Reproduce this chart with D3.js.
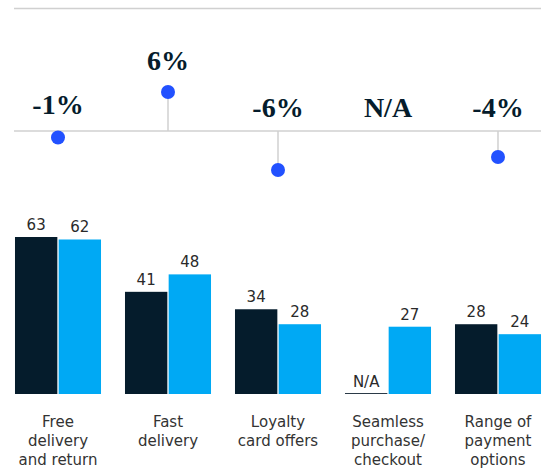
<!DOCTYPE html>
<html lang="en">
<head>
<meta charset="UTF-8">
<style>
  body { margin: 0; background: #fff; }
  svg { display: block; }
</style>
</head>
<body>
<svg width="554" height="473"></svg>
<script src="https://d3js.org/d3.v7.min.js"></script>
<script>
// data
var categories = ["Free delivery and return", "Fast delivery", "Loyalty card offers",
                  "Seamless purchase/ checkout", "Range of payment options"];
var labelLines = [["Free", "delivery", "and return"], ["Fast", "delivery"], ["Loyalty", "card offers"],
                  ["Seamless", "purchase/", "checkout"], ["Range of", "payment", "options"]];
var previous = [63, 41, 34, null, 28];
var current = [62, 48, 28, 27, 24];
var change = [-1, 6, -6, null, -4];

var dark = "#051c2c", light = "#00a9f4", dotBlue = "#2251ff", grey = "#d0d0d0";
var sans = "DejaVu Sans, Arial, sans-serif";

var svg = d3.select("svg");

// group positions
var x = d3.scaleBand()
    .domain(categories)
    .range([3, 553])
    .paddingInner(0.218)
    .paddingOuter(0.109);

var x1 = d3.scaleBand()
    .domain(["prev", "cur"])
    .range([0, x.bandwidth()])
    .paddingInner(0.03);

// bar values
var y = d3.scaleLinear().domain([0, 63]).range([394, 237]);

// change dots
var lineY = 131;
var yc = d3.scaleLinear().domain([-6, 6]).range([170, 92]);

// top rule and zero line for the change row
svg.append("line")
    .attr("x1", 14).attr("x2", 541).attr("y1", 8.5).attr("y2", 8.5)
    .attr("stroke", grey).attr("stroke-width", 1.5);

svg.append("line")
    .attr("x1", 14).attr("x2", 541).attr("y1", lineY).attr("y2", lineY)
    .attr("stroke", grey).attr("stroke-width", 1.5);

var groups = svg.selectAll(".grp")
    .data(categories)
    .enter().append("g")
    .attr("class", "grp")
    .attr("transform", function(d) { return "translate(" + x(d) + ",0)"; });

// stems + dots
groups.each(function(d, i) {
  var g = d3.select(this);
  var cx = x.bandwidth() / 2;
  var v = change[i];
  if (v === null) {
    g.append("text")
        .attr("x", cx).attr("y", 117)
        .attr("text-anchor", "middle")
        .attr("font-family", "Liberation Serif, serif")
        .attr("font-weight", "bold")
        .attr("font-size", 28)
        .attr("fill", dark)
        .text("N/A");
    return;
  }
  g.append("line")
      .attr("x1", cx).attr("x2", cx)
      .attr("y1", lineY).attr("y2", yc(v))
      .attr("stroke", grey).attr("stroke-width", 1.5);
  g.append("circle")
      .attr("cx", cx).attr("cy", yc(v)).attr("r", 7)
      .attr("fill", dotBlue);
  var ty = v > 0 ? yc(v) - 22 : (v > -2 ? 114 : 117);
  g.append("text")
      .attr("x", cx).attr("y", ty)
      .attr("text-anchor", "middle")
      .attr("font-family", "Liberation Serif, serif")
      .attr("font-weight", "bold")
      .attr("font-size", 28)
      .attr("fill", dark)
      .text(v + "%");
});

// bars
groups.each(function(d, i) {
  var g = d3.select(this);
  var vals = [{k: "prev", v: previous[i], c: dark}, {k: "cur", v: current[i], c: light}];
  vals.forEach(function(b) {
    if (b.v === null) {
      g.append("line")
          .attr("x1", x1(b.k)).attr("x2", x1(b.k) + x1.bandwidth())
          .attr("y1", y(0) - 0.5).attr("y2", y(0) - 0.5)
          .attr("stroke", "#2b3a47").attr("stroke-width", 1);
      g.append("text")
          .attr("x", x1(b.k) + x1.bandwidth() / 2).attr("y", y(0) - 7)
          .attr("text-anchor", "middle")
          .attr("font-family", sans)
          .attr("font-size", 15)
          .attr("fill", "#2a2a2a")
          .text("N/A");
      return;
    }
    g.append("rect")
        .attr("x", x1(b.k))
        .attr("width", x1.bandwidth())
        .attr("y", y(b.v))
        .attr("height", y(0) - y(b.v))
        .attr("fill", b.c);
    g.append("text")
        .attr("x", x1(b.k) + x1.bandwidth() / 2)
        .attr("y", y(b.v) - 7)
        .attr("text-anchor", "middle")
        .attr("font-family", sans)
        .attr("font-size", 15)
        .attr("fill", "#2a2a2a")
        .text(b.v);
  });

  // category label
  var t = g.append("text")
      .attr("text-anchor", "middle")
      .attr("font-family", sans)
      .attr("font-size", 15)
      .attr("fill", "#333");
  labelLines[i].forEach(function(line, j) {
    t.append("tspan")
        .attr("x", x.bandwidth() / 2)
        .attr("y", 427 + j * 19)
        .text(line);
  });
});
</script>
</body>
</html>
